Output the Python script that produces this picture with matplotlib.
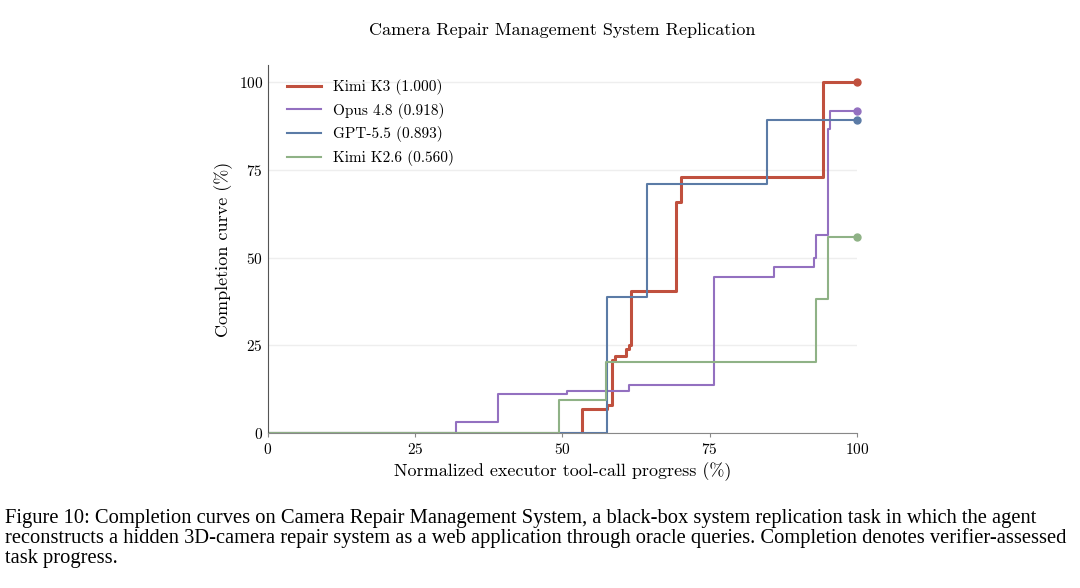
import matplotlib
matplotlib.use("Agg")
import matplotlib.pyplot as plt

plt.rcParams["font.family"] = "cmr10"
plt.rcParams["axes.formatter.use_mathtext"] = True

# (x, y) step points: y holds from x onward
curves = {
    "Kimi K3 (1.000)": dict(color="#c0503e", lw=2.2, pts=[
        (0, 0), (53.4, 6.8), (57.6, 8.0), (58.5, 20.8), (58.9, 21.9), (60.8, 23.9),
        (61.3, 25.1), (61.7, 40.5), (69.3, 65.9), (70.2, 73.0), (94.3, 100.0), (100, 100.0)]),
    "Opus 4.8 (0.918)": dict(color="#9370c0", lw=1.5, pts=[
        (0, 0), (31.9, 3.1), (39.0, 11.0), (50.7, 12.1), (61.3, 13.7), (75.7, 44.5),
        (85.9, 47.2), (92.7, 49.8), (93.0, 56.4), (95.1, 86.6), (95.4, 91.8), (100, 91.8)]),
    "GPT-5.5 (0.893)": dict(color="#5b7ba6", lw=1.5, pts=[
        (0, 0), (57.6, 38.8), (64.4, 71.1), (84.8, 89.3), (100, 89.3)]),
    "Kimi K2.6 (0.560)": dict(color="#8fb286", lw=1.5, pts=[
        (0, 0), (49.5, 9.4), (57.4, 20.1), (93.0, 38.3), (95.1, 55.9), (100, 55.9)]),
}

fig = plt.figure(figsize=(10.8, 5.88), dpi=100)
ax = fig.add_axes([0.248, 0.2636, 0.5455, 0.6254])

for name, c in curves.items():
    xs = [p[0] for p in c["pts"]]
    ys = [p[1] for p in c["pts"]]
    ax.step(xs, ys, where="post", color=c["color"], lw=c["lw"], label=name)
    ax.plot(xs[-1], ys[-1], "o", color=c["color"], markersize=5, clip_on=False)

ax.set_xlim(0, 100)
ax.set_ylim(0, 104.8)
ax.set_xticks([0, 25, 50, 75, 100])
ax.set_yticks([0, 25, 50, 75, 100])
ax.grid(True, axis="y", color="#eeeeee", lw=1)
ax.set_axisbelow(True)
for s in ["top", "right"]:
    ax.spines[s].set_visible(False)
ax.spines["left"].set_color("#555555")
ax.spines["bottom"].set_color("#888888")
ax.tick_params(axis="y", length=0, labelsize=11)
ax.tick_params(axis="x", length=3, labelsize=11, color="#888888")
ax.set_xlabel("Normalized executor tool-call progress (%)", fontsize=13)
ax.set_ylabel("Completion curve (%)", fontsize=13)
ax.set_title("Camera Repair Management System Replication", fontsize=13, pad=22)
ax.legend(loc="upper left", frameon=False, fontsize=11, handlelength=2.2,
          bbox_to_anchor=(0.01, 1.0))

fig.text(0.005, 0.135,
         "Figure 10: Completion curves on Camera Repair Management System, a black-box system replication task in which the agent\n"
         "reconstructs a hidden 3D-camera repair system as a web application through oracle queries. Completion denotes verifier-assessed\n"
         "task progress.",
         fontsize=14.8, family="Liberation Serif", va="top", linespacing=1.05)

fig.savefig("out.png", dpi=100)
